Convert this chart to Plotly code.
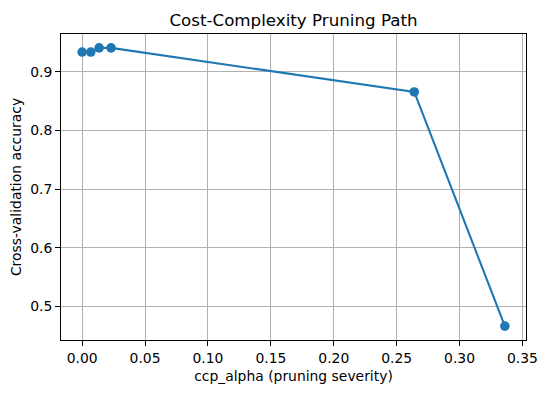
import plotly.graph_objects as go

ccp_alpha = [0.0, 0.0069, 0.0135, 0.0230, 0.2640, 0.3360]
cv_accuracy = [0.9335, 0.9335, 0.9405, 0.9405, 0.8655, 0.4665]

x_ticks = [0.00, 0.05, 0.10, 0.15, 0.20, 0.25, 0.30, 0.35]
y_ticks = [0.5, 0.6, 0.7, 0.8, 0.9]

FONT = "DejaVu Sans"
x_pad = (max(ccp_alpha) - min(ccp_alpha)) * 0.05
y_pad = (max(cv_accuracy) - min(cv_accuracy)) * 0.05

# the page body has a default 8px margin; compensate so the plot lands in place
BODY = 8

fig = go.Figure()
fig.add_trace(go.Scatter(
    x=ccp_alpha, y=cv_accuracy, mode="lines+markers",
    line=dict(color="#1f77b4", width=2.1),
    marker=dict(color="#1f77b4", size=9.6, line=dict(width=0)),
    showlegend=False,
))

axis_common = dict(
    showline=True, linecolor="black", linewidth=1.1, mirror=True,
    ticks="outside", ticklen=4.9, tickwidth=1.1, tickcolor="black",
    showgrid=True, gridcolor="#b0b0b0", gridwidth=1.1,
    zeroline=False, tickfont=dict(family=FONT, size=13.9, color="black"),
)

fig.update_layout(
    width=547 - BODY, height=393 - BODY,
    margin=dict(l=61 - BODY, r=21, t=34 - BODY, b=53),
    paper_bgcolor="white", plot_bgcolor="white",
    font=dict(family=FONT, color="black"),
    title=dict(text="Cost-Complexity Pruning Path", x=0.5, xref="paper",
               y=1, yref="paper", yanchor="bottom", pad=dict(b=8),
               font=dict(family=FONT, size=16.7, color="black")),
    xaxis=dict(range=[min(ccp_alpha) - x_pad, max(ccp_alpha) + x_pad],
               tickvals=x_ticks, tickformat=".2f",
               title=dict(text="ccp_alpha (pruning severity)", standoff=6,
                          font=dict(family=FONT, size=13.9, color="black")),
               automargin=False, **axis_common),
    yaxis=dict(range=[min(cv_accuracy) - y_pad, max(cv_accuracy) + y_pad],
               tickvals=y_ticks, tickformat=".1f",
               title=dict(text="Cross-validation accuracy", standoff=6,
                          font=dict(family=FONT, size=13.9, color="black")),
               automargin=False, **axis_common),
)

fig.write_html("out.html")
